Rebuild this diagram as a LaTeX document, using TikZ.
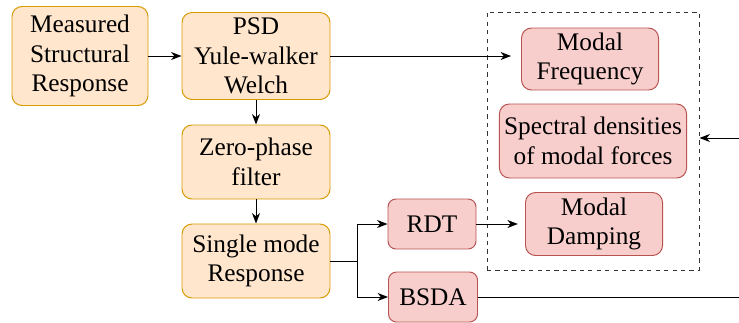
\documentclass[tikz,border=0pt]{standalone}
\usepackage{fontspec}
\setmainfont{Liberation Serif}
\usepackage{tikz}
\usetikzlibrary{shapes,arrows,positioning,calc,arrows.meta}
\usepackage{xcolor}
\definecolor{orfill}{HTML}{FFE6CC}
\definecolor{ordraw}{HTML}{D79B00}
\definecolor{rdfill}{HTML}{F8CECC}
\definecolor{rddraw}{HTML}{B85450}

\begin{document}
\begin{tikzpicture}[
    process/.style={rectangle, rounded corners=0.25cm, draw=ordraw, fill=orfill, line width=0.7pt, minimum width=3.7cm, minimum height=1.85cm, align=center, font=\fontsize{18}{21}\selectfont},
    method/.style={rectangle, rounded corners=0.2cm, draw=rddraw, fill=rdfill, line width=0.7pt, minimum width=2.2cm, minimum height=1.25cm, align=center, font=\fontsize{18}{21}\selectfont},
    output/.style={rectangle, rounded corners=0.25cm, draw=rddraw, fill=rdfill, line width=0.7pt, minimum width=3.425cm, minimum height=1.55cm, align=center, font=\fontsize{18}{21}\selectfont},
    group/.style={rectangle, draw=black!80, dashed, line width=0.7pt, inner sep=0pt},
    arrow/.style={-{Stealth[length=0.26cm, width=0.2cm, inset=0.08cm]}, line width=0.7pt},
    line/.style={line width=0.7pt}
]
\useasboundingbox (0,0) rectangle (18.475,-8.05);

% Signal processing chain
\node[process, minimum width=3.4cm, minimum height=2.475cm] (measured) at (2.0, -1.4) {Measured\\Structural\\Response};
\node[process, minimum height=2.175cm] (psd) at (6.4, -1.4) {PSD\\Yule-walker\\Welch};
\node[process] (filter) at (6.4, -4.05) {Zero-phase\\filter};
\node[process] (single) at (6.4, -6.525) {Single mode\\Response};

% Identification methods
\node[method] (rdt) at (10.8, -5.6) {RDT};
\node[method, minimum width=2.225cm] (bsda) at (10.825, -7.425) {BSDA};

% Modal parameters
\node[group, minimum width=5.3cm, minimum height=6.45cm] (params) at (14.825, -3.525) {};
\node[output] (freq) at (14.75, -1.475) {Modal\\Frequency};
\node[output, minimum width=4.675cm, minimum height=1.85cm] (spectral) at (14.825, -3.525) {Spectral densities\\of modal forces};
\node[output, minimum height=1.575cm] (damp) at (14.85, -5.6) {Modal\\Damping};

% Junctions and free ends
\coordinate (split) at (8.925, -6.525);
\coordinate (fbin) at (18.475, -3.45);
\coordinate (bsdaout) at (18.475, -7.425);

% Arrows
\draw[arrow] (measured) -- (psd);
\draw[arrow] (psd) -- (filter);
\draw[arrow] (filter) -- (single);
\draw[arrow, shorten >=0.25cm] (psd.east) -- (psd.east -| freq.west);
\draw[line] (single.east) -- (split);
\draw[arrow] (split) |- (rdt.west);
\draw[arrow] (split) |- (bsda.west);
\draw[arrow, shorten >=0.18cm] (rdt) -- (damp);
\draw[line] (bsda.east) -- (bsdaout);
\draw[arrow] (fbin) -- (fbin -| params.east);

\end{tikzpicture}
\end{document}
